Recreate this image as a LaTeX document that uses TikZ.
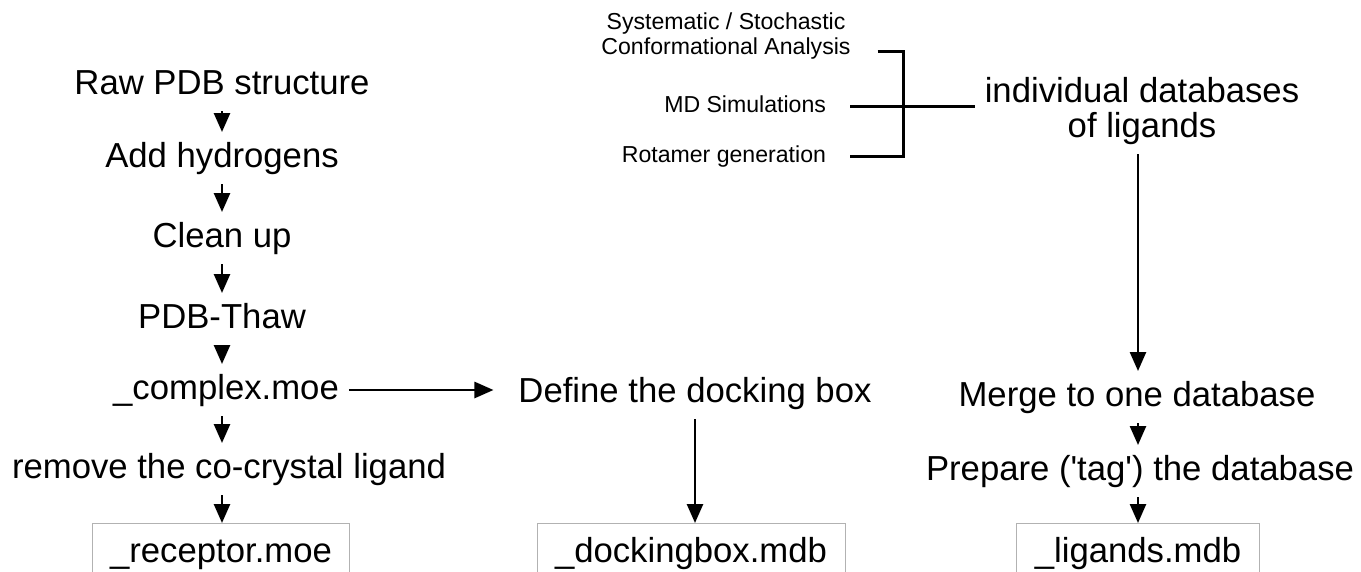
\documentclass[tikz,border=0pt]{standalone}
\usepackage{fontspec}
\setmainfont{Liberation Sans}
\usetikzlibrary{arrows.meta}

\begin{document}
\begin{tikzpicture}[x=1pt,y=-1pt]
   \tikzstyle{every node}=[inner sep=0pt,outer sep=10pt,font=\fontsize{34.7}{35}\selectfont]
   \tikzstyle{stage}=[text height=25pt,text depth=7pt]
   \tikzstyle{small}=[font=\fontsize{23.1}{25}\selectfont,text height=17pt,text depth=5pt,outer sep=0pt]
   \tikzstyle{filebox}=[draw=black!30,line width=1pt,text height=25pt,text depth=7pt,inner xsep=18pt,inner ysep=14pt,outer sep=0pt]
   \tikzstyle{flow}=[line width=2.6pt,-{Triangle[length=19pt,width=16pt]}]
   \tikzstyle{bracket}=[line width=3pt]

\useasboundingbox (0,0) rectangle (1361,571);
\clip (0,0) rectangle (1361,571);

% receptor column
\node[stage,anchor=base](raw) at (222,94) {Raw PDB structure};
\node[stage,anchor=base](addh) at (222,167) {Add hydrogens};
\node[stage,anchor=base](clean) at (222,247) {Clean up};
\node[stage,anchor=base](thaw) at (222,328) {PDB-Thaw};
\node[stage,anchor=base](complex) at (226,399) {\_complex.moe};
\node[stage,anchor=base](remove) at (229,478) {remove the co-crystal ligand};
\node[filebox,anchor=base](recbox) at (221,562) {\_receptor.moe};

% docking box column
\node[stage,anchor=base](define) at (695,402) {Define the docking box};
\node[filebox,anchor=base](dockbox) at (691,562) {\_dockingbox.mdb};

% ligand column
\node[small,anchor=north,align=center,text height=,text depth=](sys) at (726,13) {Systematic / Stochastic\\Conformational Analysis};
\node[small,anchor=base east](md) at (826,112) {MD Simulations};
\node[small,anchor=base east](rot) at (826,162) {Rotamer generation};
\node[anchor=north,align=center](indiv) at (1142,67) {individual databases\\of ligands};
\node[stage,anchor=base](merge) at (1137,406) {Merge to one database};
\node[stage,anchor=base](prepare) at (1140,480) {Prepare (\textquotesingle tag\textquotesingle) the database};
\node[filebox,anchor=base](ligbox) at (1138,562) {\_ligands.mdb};

\coordinate (spine) at (903,106);

\path[flow]
(raw) edge (addh)
(addh) edge (clean)
(clean) edge (thaw)
(thaw.south -| raw) edge (complex.north -| raw)
(complex.south -| raw) edge (remove.north -| raw)
(remove.south -| raw) edge (recbox.north -| raw)
(complex.east) edge[shorten >=15pt] (complex.east -| define.west)
(define.south) edge (define.south |- dockbox.north)
(indiv.south -| ligbox) edge (merge.north -| ligbox)
(merge.south -| ligbox) edge (prepare.north -| ligbox)
(prepare.south -| ligbox) edge (ligbox.north);

\draw[bracket] ([xshift=27pt,yshift=8pt]sys.south east) -| (spine |- rot.east) -- ([xshift=24pt]rot.east);
\draw[bracket] ([xshift=24pt]md.east) -- (md.east -| indiv.west);

\end{tikzpicture}
\end{document}
